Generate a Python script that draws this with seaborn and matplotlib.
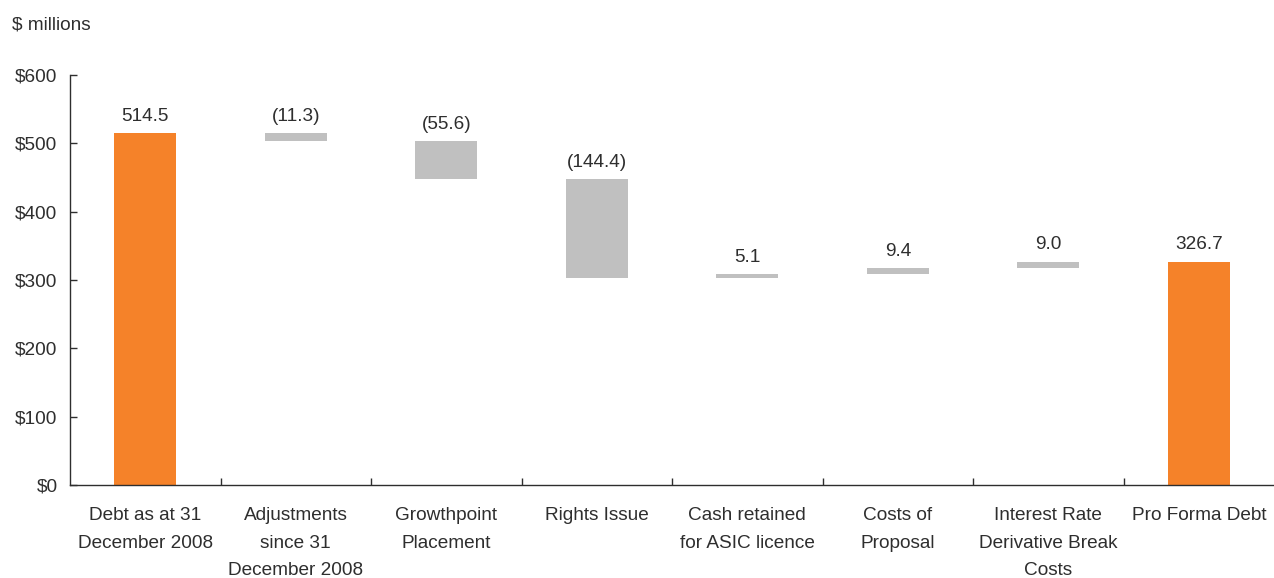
import numpy as np
import matplotlib
matplotlib.use("Agg")
import matplotlib.pyplot as plt
import seaborn as sns

# Bridge from opening debt to pro forma debt ($ millions)
categories = [
    "Debt as at 31\nDecember 2008",
    "Adjustments\nsince 31\nDecember 2008",
    "Growthpoint\nPlacement",
    "Rights Issue",
    "Cash retained\nfor ASIC licence",
    "Costs of\nProposal",
    "Interest Rate\nDerivative Break\nCosts",
    "Pro Forma Debt",
]
changes = [514.5, -11.3, -55.6, -144.4, 5.1, 9.4, 9.0, 326.7]
is_total = [True, False, False, False, False, False, False, True]
y_ticks = [0, 100, 200, 300, 400, 500, 600]

ORANGE = "#F58229"
GREY = "#C0C0C0"
TEXT = "#2E2E2E"
FS = 13.7

sns.set_style("ticks")
plt.rcParams["font.family"] = ["Liberation Sans", "DejaVu Sans"]
plt.rcParams["font.size"] = FS

# Bar bottoms: totals start at zero, movements float on the running level
bottoms = []
level = 0.0
for v, tot in zip(changes, is_total):
    if tot:
        bottoms.append(0.0)
        level = v
    else:
        bottoms.append(level)
        level += v

fig = plt.figure(figsize=(12.74, 5.78), dpi=100)
ax = fig.add_axes([70 / 1274, 1 - 485 / 578, 1 - 70 / 1274, (485 - 75) / 578])

sns.barplot(x=categories, y=changes, order=categories, bottom=bottoms,
            color=GREY, saturation=1, width=0.41, ax=ax, linewidth=0)
for patch, tot in zip(ax.patches, is_total):
    patch.set_facecolor(ORANGE if tot else GREY)

# Value labels above each bar
for i, (v, b) in enumerate(zip(changes, bottoms)):
    top = max(b, b + v)
    label = f"({abs(v):.1f})" if v < 0 else f"{v:.1f}"
    ax.annotate(label, (i, top), xytext=(0, 6), textcoords="offset points",
                ha="center", va="bottom", fontsize=FS, color=TEXT)

ax.set_xlim(-0.5, len(categories) - 0.5)
ax.set_ylim(0, 600)
ax.set_yticks(y_ticks)
ax.set_yticklabels([f"${t}" for t in y_ticks])
ax.set_xticks(range(len(categories)))
ax.set_xticklabels(categories, linespacing=1.8)
ax.set_xticks(np.arange(0.5, len(categories) - 1, 1.0), minor=True)
ax.tick_params(axis="x", which="major", length=0, pad=16, colors=TEXT, labelsize=FS)
ax.tick_params(axis="x", which="minor", direction="in", length=5, width=1, color=TEXT)
ax.tick_params(axis="y", direction="in", length=5, width=1, pad=9, colors=TEXT, labelsize=FS)
ax.set_xlabel("")
ax.set_ylabel("")

sns.despine(ax=ax)
for s in ("left", "bottom"):
    ax.spines[s].set_color(TEXT)
    ax.spines[s].set_linewidth(1)

fig.text(12 / 1274, 1 - 25 / 578, "$ millions", ha="left", va="center",
         fontsize=FS, color=TEXT)

fig.savefig("out.png", dpi=100)
